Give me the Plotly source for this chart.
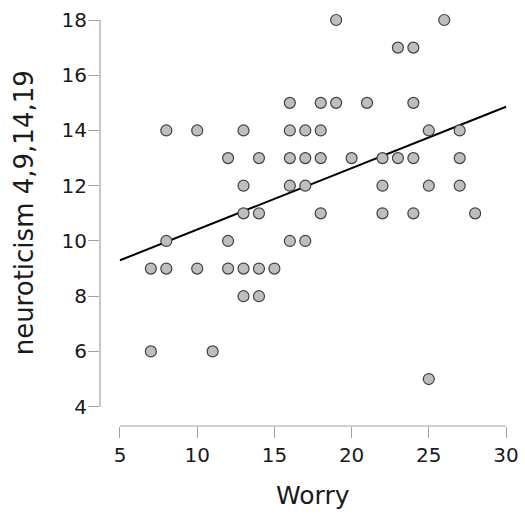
import plotly.graph_objects as go

# Data
worry = [19, 26,
         23, 24,
         16, 18, 19, 21, 24,
         8, 10, 13, 16, 17, 18, 25, 27,
         12, 14, 16, 17, 18, 20, 22, 23, 24, 27,
         13, 16, 17, 22, 25, 27,
         13, 14, 18, 22, 24, 28,
         8, 12, 16, 17,
         7, 8, 10, 12, 13, 14, 15,
         13, 14,
         7, 11,
         25]
neuro = [18, 18,
         17, 17,
         15, 15, 15, 15, 15,
         14, 14, 14, 14, 14, 14, 14, 14,
         13, 13, 13, 13, 13, 13, 13, 13, 13, 13,
         12, 12, 12, 12, 12, 12,
         11, 11, 11, 11, 11, 11,
         10, 10, 10, 10,
         9, 9, 9, 9, 9, 9, 9,
         8, 8,
         6, 6,
         5]

# Regression line as drawn in the reference (values at x = 5 and x = 30)
fit_x = [5, 30]
fit_y = [9.30, 14.86]

x_ticks = [5, 10, 15, 20, 25, 30]
y_ticks = [4, 6, 8, 10, 12, 14, 16, 18]
x_title = "Worry"
y_title = "neuroticism 4,9,14,19"

FONT = "DejaVu Sans"
AXIS_COLOR = "#a0a0a0"
TEXT_COLOR = "#1a1a1a"

fig = go.Figure()
fig.add_trace(go.Scatter(x=fit_x, y=fit_y, mode="lines",
                         line=dict(color="black", width=2), hoverinfo="skip"))
fig.add_trace(go.Scatter(x=worry, y=neuro, mode="markers",
                         marker=dict(size=11, color="#bebebe",
                                     line=dict(color="#404040", width=1.2))))

fig.update_layout(
    width=525, height=516,
    margin=dict(l=100, r=5, t=5, b=90),
    plot_bgcolor="white", paper_bgcolor="white",
    showlegend=False,
    font=dict(family=FONT, color=TEXT_COLOR),
    xaxis=dict(range=[3.705, 30.907], tickvals=x_ticks, showgrid=False,
               zeroline=False, showline=False, ticks="outside", ticklen=11,
               tickwidth=1, tickcolor=AXIS_COLOR, automargin=False,
               tickfont=dict(size=20, family=FONT, color=TEXT_COLOR)),
    yaxis=dict(range=[3.30, 18.543], tickvals=y_ticks, showgrid=False,
               zeroline=False, showline=False, ticks="outside", ticklen=11,
               tickwidth=1, tickcolor=AXIS_COLOR, automargin=False,
               ticklabelstandoff=-3,
               tickfont=dict(size=20, family=FONT, color=TEXT_COLOR)),
)

# R-style axis lines spanning only the tick range
fig.add_shape(type="line", xref="x", yref="paper",
              x0=min(x_ticks), x1=max(x_ticks), y0=0, y1=0,
              line=dict(color=AXIS_COLOR, width=1.2))
fig.add_shape(type="line", xref="paper", yref="y",
              x0=0, x1=0, y0=min(y_ticks), y1=max(y_ticks),
              line=dict(color=AXIS_COLOR, width=1.2))

fig.add_annotation(text=x_title, xref="x", yref="paper",
                   x=(min(x_ticks) + max(x_ticks)) / 2, y=0, yshift=-69,
                   yanchor="middle", showarrow=False,
                   font=dict(size=25, family=FONT, color=TEXT_COLOR))
fig.add_annotation(text=y_title, xref="paper", yref="y",
                   x=0, y=(min(y_ticks) + max(y_ticks)) / 2, xshift=-76,
                   xanchor="center", yanchor="middle", textangle=-90,
                   showarrow=False,
                   font=dict(size=26, family=FONT, color=TEXT_COLOR))

fig.write_html("out.html",
               config={"displayModeBar": False},
               post_script="document.body.style.margin='0';"
                           "document.body.style.overflow='hidden';")
